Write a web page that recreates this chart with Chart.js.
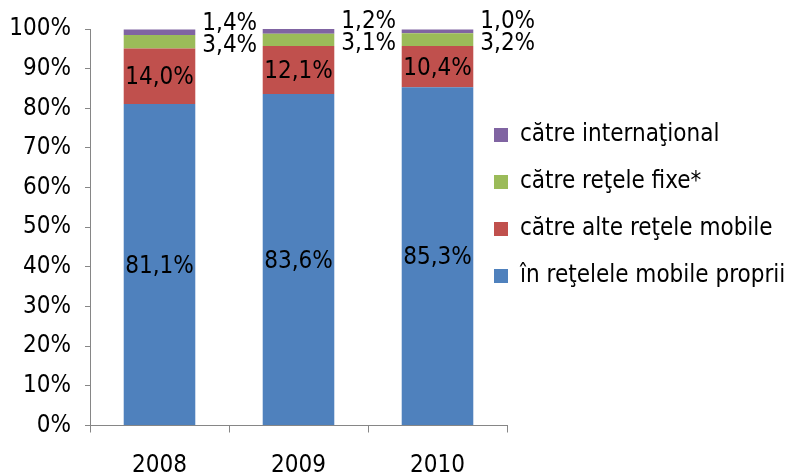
<!DOCTYPE html>
<html>
<head>
<meta charset="utf-8">
<script src="https://cdn.jsdelivr.net/npm/chart.js@4/dist/chart.umd.min.js"></script>
<style>
  html, body { margin: 0; padding: 0; background: #fff; }
  #wrap { width: 792px; height: 474px; }
</style>
</head>
<body>
<div id="wrap"><canvas id="chart" width="792" height="474"></canvas></div>
<script>
// Categories and series (shares of traffic, %)
const years = ["2008", "2009", "2010"];
const ownNetwork = [81.1, 83.6, 85.3];
const otherMobile = [14.0, 12.1, 10.4];
const fixedNetworks = [3.4, 3.1, 3.2];
const international = [1.4, 1.2, 1.0];

const seriesNames = [
    "în reţelele mobile proprii",
    "către alte reţele mobile",
    "către reţele fixe*",
    "către internaţional",
];

const yTicks = [0, 10, 20, 30, 40, 50, 60, 70, 80, 90, 100];

const fontFamily = '"DejaVu Sans Condensed", "DejaVu Sans", sans-serif';
const axisColor = "#868686";

const fmt = (v) => v.toFixed(1).replace(".", ",") + "%";

// Value labels: first two inside, last two beside the bar
const valueLabels = {
    id: "valueLabels",
    afterDatasetsDraw(chart) {
        const ctx = chart.ctx;
        ctx.save();
        ctx.font = "24px " + fontFamily;
        ctx.fillStyle = "#000";
        ctx.textBaseline = "middle";
        const greenMeta = chart.getDatasetMeta(2);
        chart.data.datasets.forEach((ds, di) => {
            const meta = chart.getDatasetMeta(di);
            meta.data.forEach((bar, i) => {
                const text = fmt(ds.data[i]);
                const mid = (bar.y + bar.base) / 2 + 2;
                if (di < 2) {
                    ctx.textAlign = "center";
                    ctx.fillText(text, bar.x, mid);
                } else {
                    const g = greenMeta.data[i];
                    const gy = (g.y + g.base) / 2 + 4;
                    ctx.textAlign = "left";
                    ctx.fillText(text, bar.x + bar.width / 2 + 7, di === 2 ? gy : gy - 22);
                }
            });
        });
        ctx.restore();
    },
};

// Legend sits a bit into the plot's right margin, lower than the top
const legendShift = {
    id: "legendShift",
    afterLayout(chart) {
        const l = chart.legend;
        l.left -= 36;
        l.top += 71; l.bottom += 71;
    },
};

new Chart(document.getElementById("chart"), {
    type: "bar",
    plugins: [valueLabels, legendShift],
    data: {
        labels: years,
        datasets: [
            { label: seriesNames[0], data: ownNetwork, backgroundColor: "#4F81BD" },
            { label: seriesNames[1], data: otherMobile, backgroundColor: "#C0504D" },
            { label: seriesNames[2], data: fixedNetworks, backgroundColor: "#9BBB59" },
            { label: seriesNames[3], data: international, backgroundColor: "#8064A2" },
        ],
    },
    options: {
        responsive: false,
        animation: false,
        layout: { padding: { top: 29, right: 0, bottom: 0, left: 0 } },
        datasets: { bar: { categoryPercentage: 1, barPercentage: 0.515, borderWidth: 0 } },
        scales: {
            x: {
                stacked: true,
                grid: { display: true, drawOnChartArea: false, color: axisColor, tickLength: 7, offset: true },
                border: { color: axisColor },
                ticks: { color: "#000", font: { size: 24, family: fontFamily }, padding: 19 },
                afterFit: (s) => { s.height = 48.5; },
            },
            y: {
                stacked: true,
                min: 0,
                max: 100,
                afterBuildTicks: (s) => { s.ticks = yTicks.map((v) => ({ value: v })); },
                grid: { display: true, drawOnChartArea: false, color: axisColor, tickLength: 5 },
                border: { color: axisColor },
                ticks: { color: "#000", font: { size: 24, family: fontFamily }, padding: 14, callback: (v) => v + "%" },
                afterFit: (s) => { s.width = 90; },
            },
        },
        plugins: {
            tooltip: { enabled: false },
            legend: {
                position: "right",
                align: "start",
                reverse: true,
                maxWidth: 285,
                labels: {
                    color: "#000",
                    font: { size: 24, family: fontFamily },
                    boxWidth: 14,
                    boxHeight: 14,
                    padding: 23,
                },
            },
        },
    },
});
</script>
</body>
</html>
